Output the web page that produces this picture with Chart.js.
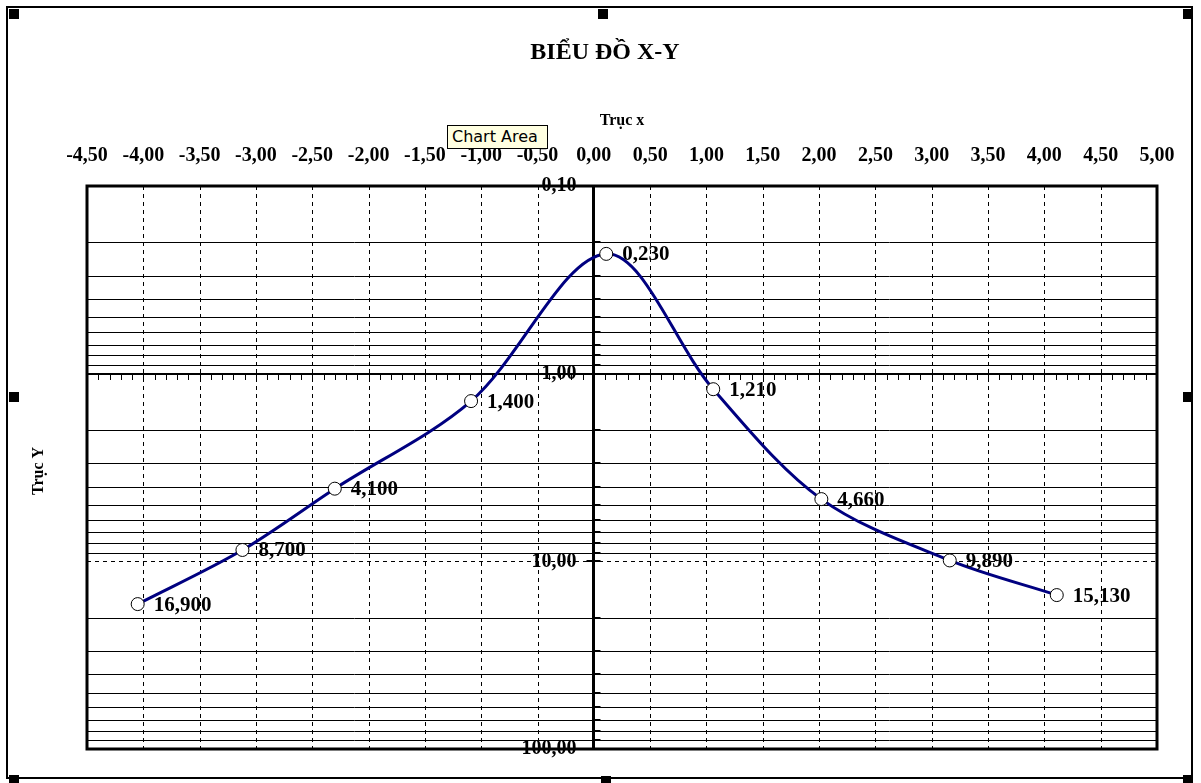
<!DOCTYPE html>
<html><head><meta charset="utf-8">
<script src="https://cdn.jsdelivr.net/npm/chart.js@4.4.1/dist/chart.umd.min.js"></script>
<style>
html,body{margin:0;padding:0;background:#fff;}
#wrap{position:relative;width:1201px;height:783px;overflow:hidden;background:#fff;}
#c{position:absolute;left:0;top:0;}
.frame{position:absolute;left:6px;top:6px;width:1187px;height:773px;border:2px solid #000;box-sizing:border-box;pointer-events:none}
.h{position:absolute;width:10px;height:10px;background:#000}
.tip{position:absolute;left:447px;top:125px;width:101px;height:24px;box-sizing:border-box;border:1px solid #000;background:#ffffe1;font:16px "DejaVu Sans";line-height:22px;padding-left:4px;color:#000;white-space:nowrap}
</style></head>
<body>
<div id="wrap">
<canvas id="c" width="1201" height="783"></canvas>
<div class="frame"></div>
<div class="h" style="left:9px;top:9px"></div>
<div class="h" style="left:598px;top:9px"></div>
<div class="h" style="left:1183px;top:9px"></div>
<div class="h" style="left:9px;top:392px"></div>
<div class="h" style="left:1183px;top:392px"></div>
<div class="h" style="left:9px;top:775px"></div>
<div class="h" style="left:601px;top:776px"></div>
<div class="h" style="left:1183px;top:775px"></div>
<div class="tip">Chart Area</div>
</div>
<script>
// ---- data ----
const chartTitle = 'BIỂU ĐỒ X-Y';
const xAxisTitle = 'Trục x';
const yAxisTitle = 'Trục Y';
const xValues = [-4.05, -3.12, -2.30, -1.09, 0.11, 1.06, 2.02, 3.16, 4.11];
const yValues = [16.9, 8.7, 4.1, 1.4, 0.23, 1.21, 4.66, 9.89, 15.13];
const pointLabels = ['16,900', '8,700', '4,100', '1,400', '0,230', '1,210', '4,660', '9,890', '15,130'];
const yTickValues = [0.1, 1, 10, 100];
const yDecades = [0.1, 1, 10];
const xMin = -4.5, xMax = 5, xStep = 0.5, xMinorStep = 0.1;

const fmt = v => Number(v).toFixed(2).replace('.', ',');
const SERIF = '"Liberation Serif", "Times New Roman", serif';
Chart.defaults.font.family = SERIF;
Chart.defaults.color = '#000';

const excelPlugin = {
  id: 'excelPlugin',
  beforeDatasetsDraw(chart) {
    const {ctx, chartArea: ca, scales: {x: xs, y: ys}} = chart;
    ctx.save();
    ctx.strokeStyle = '#000';
    // horizontal gridlines (minor solid, major dashed)
    ctx.lineWidth = 1;
    yDecades.forEach(d => {
      for (let m = 1; m <= 9; m++) {
        const v = m * d;
        if (m === 1 && d === yDecades[0]) continue;
        const py = Math.round(ys.getPixelForValue(v)) + 0.5;
        ctx.setLineDash(m === 1 ? [4, 4] : []);
        ctx.beginPath(); ctx.moveTo(ca.left, py); ctx.lineTo(ca.right, py); ctx.stroke();
      }
    });
    // vertical dashed gridlines
    ctx.setLineDash([4, 4]);
    xs.ticks.forEach(t => {
      if (t.value <= xMin || t.value >= xMax || t.value === 0) return;
      const px = Math.round(xs.getPixelForValue(t.value)) + 0.5;
      ctx.beginPath(); ctx.moveTo(px, ca.top); ctx.lineTo(px, ca.bottom); ctx.stroke();
    });
    ctx.setLineDash([]);
    // x axis line at y = 1
    const axY = Math.round(ys.getPixelForValue(1));
    ctx.lineWidth = 2;
    ctx.beginPath(); ctx.moveTo(ca.left, axY); ctx.lineTo(ca.right, axY); ctx.stroke();
    ctx.lineWidth = 1;
    const nMinor = Math.round((xMax - xMin) / xMinorStep);
    for (let i = 0; i <= nMinor; i++) {
      const v = xMin + i * xMinorStep;
      const px = Math.round(xs.getPixelForValue(v)) + 0.5;
      const major = i % Math.round(xStep / xMinorStep) === 0;
      ctx.beginPath();
      ctx.moveTo(px, major ? axY - 5 : axY);
      ctx.lineTo(px, axY + 6);
      ctx.stroke();
    }
    // y axis line at x = 0
    const axX = Math.round(xs.getPixelForValue(0)) - 0.5;
    ctx.lineWidth = 3;
    ctx.beginPath(); ctx.moveTo(axX, ca.top); ctx.lineTo(axX, ca.bottom); ctx.stroke();
    ctx.lineWidth = 2;
    yDecades.forEach(d => {
      for (let m = 1; m <= 9; m++) {
        const v = m * d;
        const py = Math.round(ys.getPixelForValue(v));
        ctx.beginPath();
        ctx.moveTo(m === 1 ? axX - 7 : axX, py);
        ctx.lineTo(axX + 7, py);
        ctx.stroke();
      }
    });
    // plot frame
    ctx.lineWidth = 3;
    ctx.strokeRect(ca.left, ca.top, ca.right - ca.left, ca.bottom - ca.top);
    ctx.restore();
  },
  afterDatasetsDraw(chart) {
    const {ctx} = chart;
    const meta = chart.getDatasetMeta(0);
    ctx.save();
    ctx.fillStyle = '#000';
    ctx.font = 'bold 21px ' + SERIF;
    ctx.textAlign = 'left';
    ctx.textBaseline = 'middle';
    meta.data.forEach((pt, i) => {
      ctx.fillText(pointLabels[i], pt.x + 16, pt.y + 1);
    });
    // main title
    ctx.font = 'bold 24px ' + SERIF;
    ctx.textAlign = 'center';
    ctx.fillText(chartTitle, 605, 53);
    // y axis title
    ctx.font = 'bold 16px ' + SERIF;
    ctx.translate(39, 471);
    ctx.rotate(-Math.PI / 2);
    ctx.fillText(yAxisTitle, 0, 0);
    ctx.restore();
  }
};

new Chart(document.getElementById('c'), {
  type: 'line',
  data: {
    datasets: [{
      data: xValues.map((x, i) => ({x, y: yValues[i]})),
      borderColor: '#000080',
      borderWidth: 3,
      tension: 0.33,
      pointRadius: 6.5,
      pointBackgroundColor: '#fff',
      pointBorderColor: '#000',
      pointBorderWidth: 1,
      fill: false
    }]
  },
  options: {
    responsive: false,
    animation: false,
    events: [],
    layout: {padding: {top: 66.6, left: 87, right: 44, bottom: 34}},
    plugins: {legend: {display: false}, tooltip: {enabled: false}, title: {display: false}},
    scales: {
      x: {
        type: 'linear', position: 'top', min: xMin, max: xMax,
        ticks: {stepSize: xStep, callback: v => fmt(v), font: {weight: 'bold', size: 20}, color: '#000',
                padding: 18, autoSkip: false, maxRotation: 0, minRotation: 0},
        grid: {display: false, drawTicks: false},
        border: {display: false},
        title: {display: true, text: xAxisTitle, font: {weight: 'bold', size: 16}, color: '#000',
                padding: {top: 44.8, bottom: -4.6}}
      },
      y: {
        type: 'logarithmic', reverse: true, min: 0.1, max: 100, position: {x: -0.155},
        afterBuildTicks: s => { s.ticks = yTickValues.map(v => ({value: v})); },
        ticks: {callback: v => fmt(v), font: {weight: 'bold', size: 20}, color: '#000', padding: 0, autoSkip: false},
        grid: {display: false, drawTicks: false},
        border: {display: false}
      }
    }
  },
  plugins: [excelPlugin]
});
</script>
</body></html>
